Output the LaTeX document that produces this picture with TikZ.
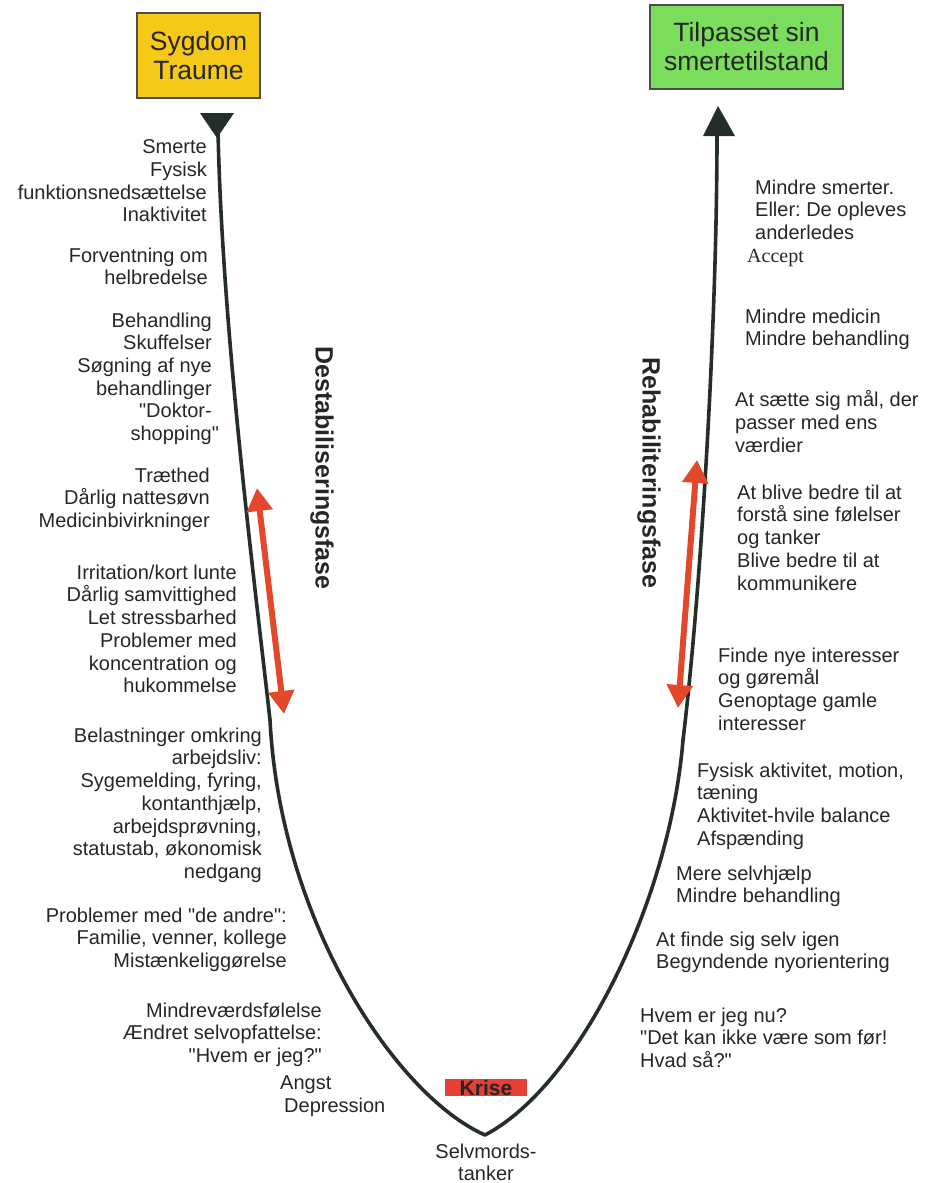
\documentclass[tikz,border=0pt]{standalone}
\usepackage{fontspec}
\setmainfont{Liberation Sans}[Ligatures=TeXOff]
\newfontfamily\timesf{Liberation Serif}[Ligatures=TeXOff]
\usetikzlibrary{arrows.meta}
\definecolor{boxyellow}{RGB}{246,200,24}
\definecolor{boxgreen}{RGB}{122,222,92}
\definecolor{curvecol}{RGB}{38,46,43}
\definecolor{arrred}{RGB}{228,72,42}
\definecolor{krisered}{RGB}{232,62,52}
\definecolor{txt}{RGB}{38,38,38}
\newcommand{\bodyfont}{\fontsize{20}{22.7}\selectfont}
\newcommand{\boxfont}{\fontsize{26.5}{29}\selectfont}
\newcommand{\phasefont}{\fontsize{25}{25}\selectfont\bfseries}
\frenchspacing
\begin{document}
\begin{tikzpicture}[x=1pt,y=-1pt,
  lt/.style={align=right, anchor=north east, inner sep=0pt, font=\bodyfont, text=txt},
  rt/.style={align=left, anchor=north west, inner sep=0pt, font=\bodyfont, text=txt},
  topbox/.style={draw=black!70, line width=1.2pt, inner sep=0pt, align=center, font=\boxfont, text=txt},
  curve/.style={draw=curvecol, line width=3.6pt, line join=round},
  redarrow/.style={draw=arrred, line width=6pt, {Triangle[width=25pt,length=23pt]}-{Triangle[width=25pt,length=23pt]}},
  phase/.style={font=\phasefont, text=txt, rotate=-90, inner sep=0pt}
]
\useasboundingbox (0,0) rectangle (925,1183);

% top boxes
\node (sick) [topbox, fill=boxyellow, minimum width=123pt, minimum height=85pt] at (198.5,55.5) {Sygdom\\Traume};
\node (adapted) [topbox, fill=boxgreen, minimum width=193pt, minimum height=84pt] at (746.5,47) {Tilpasset sin\\smertetilstand};

% curve
\coordinate (ls) at (218,130);
\coordinate (lm) at (270,720);
\coordinate (v) at (485,1135);
\coordinate (rm) at (683,740);
\coordinate (rs) at (717,134);
\draw[curve] (ls) .. controls (222,330) and (255,585) .. (lm)
  .. controls (280,920) and (395,1095) .. (v)
  .. controls (580,1085) and (670,900) .. (rm)
  .. controls (700,600) and (717,330) .. (rs);

% top arrowheads
\fill[curvecol] (200,113) -- (234,113) -- (217,138) -- cycle;
\fill[curvecol] (703,136) -- (735,136) -- (718,106) -- cycle;

% red double arrows
\coordinate (la1) at (257,488);
\coordinate (la2) at (284,714);
\coordinate (ra1) at (697,460);
\coordinate (ra2) at (678,708);
\draw[redarrow] (la1) -- (la2);
\draw[redarrow] (ra1) -- (ra2);

% phase labels
\node (destab) [phase] at (322,468) {Destabiliseringsfase};
\node (rehab) [phase] at (649,473) {Rehabiliteringsfase};

% left texts
\node (l1) [lt] at (207,139.5) {Smerte\\Fysisk\\funktionsnedsættelse\\Inaktivitet};
\node (l2) [lt] at (208,247.5) {Forventning om\\helbredelse};
\node (l3) [lt] at (212,312.5) {Behandling\\Skuffelser\\Søgning af nye\\behandlinger\\"Doktor-\hspace*{5pt}\\shopping\rlap{"}};
\node (l4) [lt] at (210,467.5) {Træthed\\Dårlig nattesøvn\\Medicinbivirkninger};
\node (l5) [lt] at (237,564.5) {Irritation/kort lunte\\Dårlig samvittighed\\Let stressbarhed\\Problemer med\\koncentration og\\hukommelse};
\node (l6) [lt] at (262,727.5) {Belastninger omkring\\arbejdsliv:\\Sygemelding, fyring,\\kontanthjælp,\\arbejdsprøvning,\\statustab, økonomisk\\nedgang};
\node (l7) [lt] at (287,907.5) {Problemer med "de andre":\\Familie, venner, kollege\\Mistænkeliggørelse};
\node (l8) [lt] at (322,1002.5) {Mindreværdsfølelse\\Ændret selvopfattelse:\\"Hvem er jeg?"};
\node (l9) [rt] at (284,1075.5) {\hspace*{-4pt}Angst\\Depression};

% crisis
\fill[krisered] (445,1079) rectangle (527,1096);
\node (krise) [font=\fontsize{21}{21}\selectfont\bfseries, text=txt, inner sep=0pt] at (486,1088) {Krise};
\node (selvmord) [align=center, font=\bodyfont, text=txt, inner sep=0pt, anchor=north] at (486,1143.5) {Selvmords-\\tanker};

% right texts
\node (r1) [rt] at (755,179.5) {Mindre smerter.\\Eller: De opleves\\anderledes\\\hspace*{-8pt}{\timesf Accept}};
\node (r2) [rt] at (745,308.5) {Mindre medicin\\Mindre behandling};
\node (r3) [rt] at (735,390.5) {At sætte sig mål, der\\passer med ens\\værdier};
\node (r4) [rt] at (737,484.5) {At blive bedre til at\\forstå sine følelser\\og tanker\\Blive bedre til at\\kommunikere};
\node (r5) [rt] at (718,647.5) {Finde nye interesser\\og gøremål\\Genoptage gamle\\interesser};
\node (r6) [rt] at (697,762.5) {Fysisk aktivitet, motion,\\tæning\\Aktivitet-hvile balance\\Afspænding};
\node (r7) [rt] at (676,865.5) {Mere selvhjælp\\Mindre behandling};
\node (r8) [rt] at (656,931.5) {At finde sig selv igen\\Begyndende nyorientering};
\node (r9) [rt] at (640,1007.5) {Hvem er jeg nu?\\"Det kan ikke være som før!\\Hvad så?"};
\end{tikzpicture}
\end{document}
